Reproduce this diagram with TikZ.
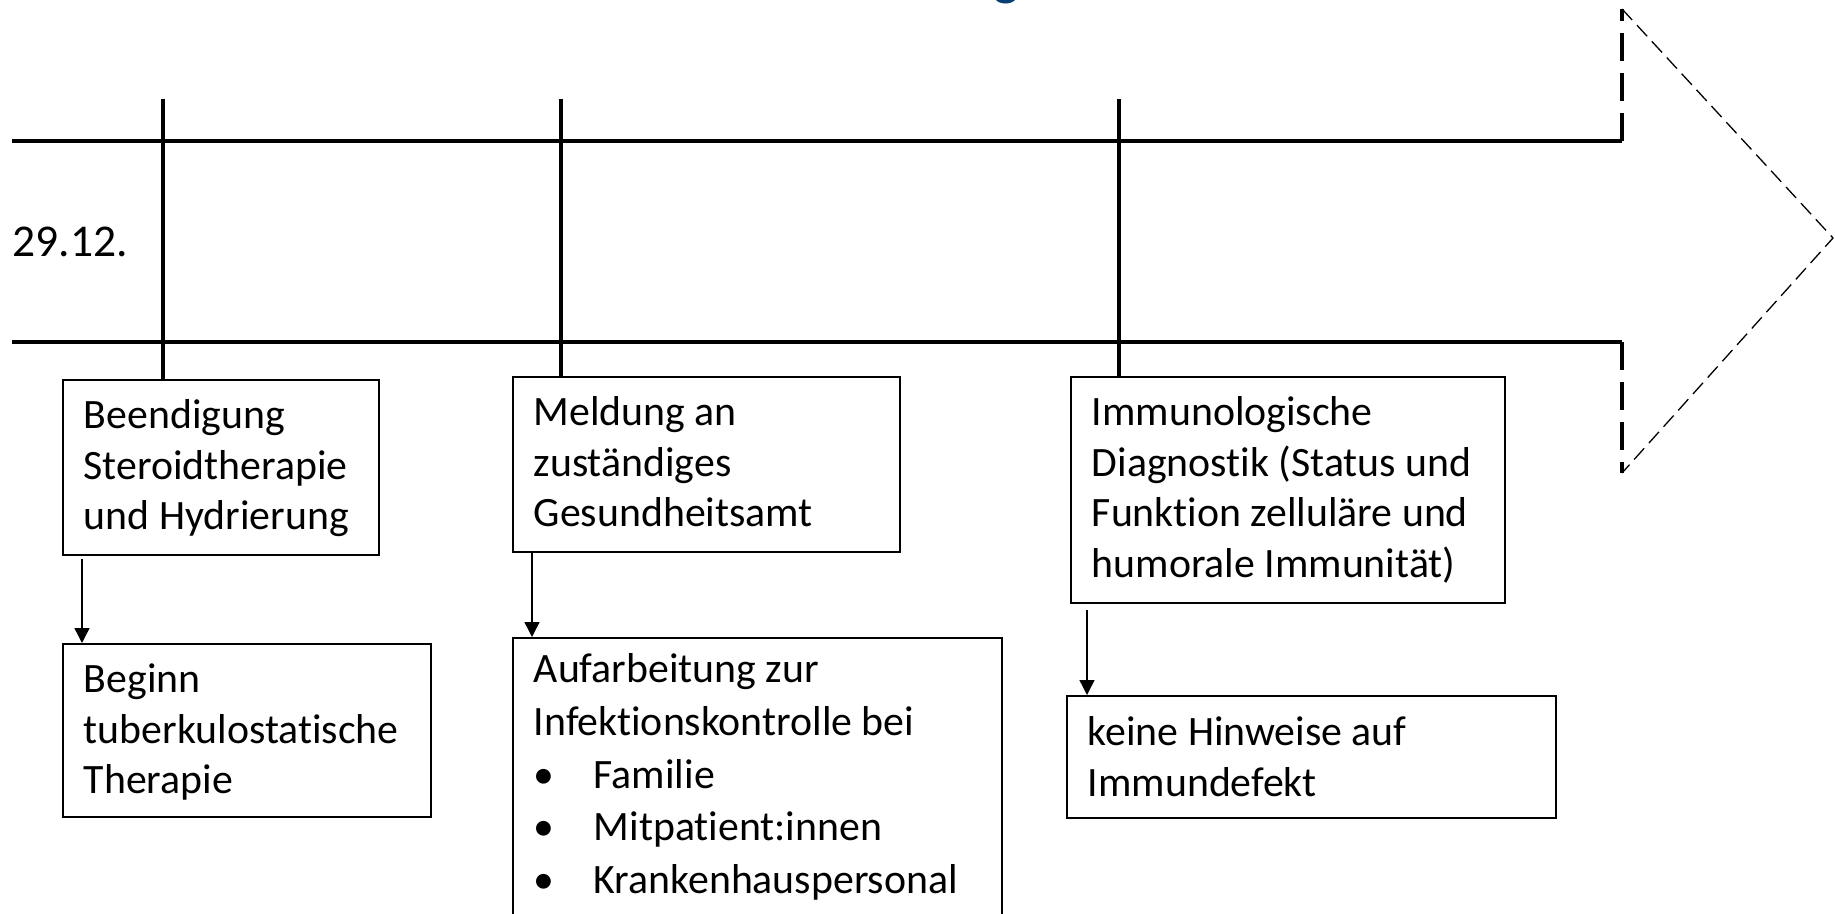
\documentclass[tikz,border=0pt]{standalone}
\usepackage{fontspec}
\setmainfont{Carlito}[Ligatures={NoCommon}]
\usetikzlibrary{arrows.meta}
\definecolor{titleblue}{RGB}{8,62,115}
\newcommand\bxt[4]{\parbox[c][#2][t]{#1}{\raggedright\leftskip=10.5pt\rule{0pt}{#3}#4}}
\tikzset{
  box/.style={draw, line width=0.8pt, inner sep=0pt, anchor=north west,
    font=\fontsize{20.9pt}{25.25pt}\selectfont},
  arr/.style={-{Triangle[length=7.5pt,width=7.5pt]}, line width=0.7pt},
  tl/.style={line width=1.6pt},
  tldash/.style={line width=1.6pt, dash pattern=on 14pt off 6pt},
  headdash/.style={line width=0.65pt, dash pattern=on 7.5pt off 3.5pt},
  ttlstyle/.style={text=titleblue, inner sep=0pt, anchor=base,
    font=\fontsize{27.5pt}{30pt}\selectfont},
  datestyle/.style={inner sep=0pt, anchor=base west,
    font=\fontsize{22.75pt}{27pt}\selectfont}
}
\begin{document}
\begin{tikzpicture}[x=0.5pt, y=-0.5pt]
\useasboundingbox (0,0) rectangle (1835,914);
\clip (0,0) rectangle (1835,914);

% clipped title fragment
\node[ttlstyle] (ttl) at (1006,-5.5) {g};

% timeline arrow
\coordinate (hl1) at (12,141);
\coordinate (hr1) at (1622,141);
\coordinate (hl2) at (12,342);
\coordinate (hr2) at (1622,342);
\coordinate (ht) at (1622,9);
\coordinate (tip) at (1833,238);
\coordinate (hb) at (1622,473);
\draw[tl] (hl1) -- (hr1);
\draw[tl] (hl2) -- (hr2);
\draw[tldash] (hr1) -- (ht);
\draw[tldash] (hr2) -- (hb);
\draw[headdash] (ht) -- (tip) -- (hb);

\node[datestyle] (date) at (12,257) {29.12.};

% boxes
\node[box] (b1) at (62,379) {\bxt{158pt}{87.5pt}{24.5pt}{Beendigung\\Steroidtherapie\\und Hydrierung}};
\node[box] (b2) at (512,376) {\bxt{193.5pt}{87.5pt}{24.5pt}{Meldung an\\zuständiges\\Gesundheitsamt}};
\node[box] (b3) at (1070,376) {\bxt{217pt}{113pt}{24.5pt}{Immunologische\\Diagnostik (Status und\\Funktion zelluläre und\\humorale Immunität)}};
\node[box] (b4) at (62,643) {\bxt{184pt}{86.5pt}{24.5pt}{Beginn\\tuberkulostatische\\Therapie}};
\node[box] (b5) at (512,637) {\bxt{244.5pt}{150pt}{22.5pt}{\baselineskip=26.35pt Aufarbeitung zur\\Infektionskontrolle bei\\\makebox[30pt][l]{•}Familie\\\makebox[30pt][l]{•}Mitpatient:innen\\\makebox[30pt][l]{•}Krankenhauspersonal}};
\node[box] (b6) at (1066,695) {\bxt{244.5pt}{61pt}{25pt}{keine Hinweise auf\\Immundefekt}};

% timeline ticks
\coordinate (v1) at (163,99);
\coordinate (v2) at (561,99);
\coordinate (v3) at (1119,99);
\draw[tl] (v1) -- (v1 |- b1.north);
\draw[tl] (v2) -- (v2 |- b2.north);
\draw[tl] (v3) -- (v3 |- b3.north);

% connectors
\draw[arr] ([xshift=10pt,yshift=-1.5pt]b1.south west) -- ([xshift=10pt]b4.north west);
\draw[arr] ([xshift=10pt]b2.south west) -- ([xshift=10pt]b5.north west);
\draw[arr] ([xshift=8.5pt,yshift=-3pt]b3.south west) -- ([xshift=10.5pt]b6.north west);
\end{tikzpicture}
\end{document}
